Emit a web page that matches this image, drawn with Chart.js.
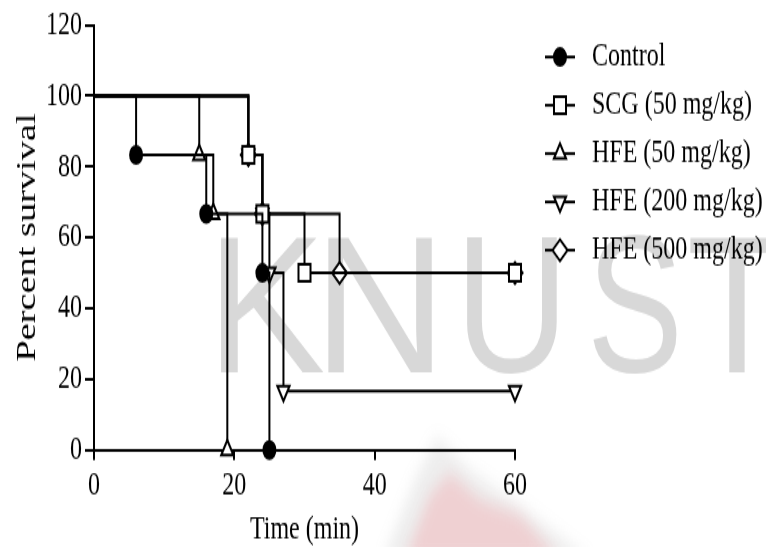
<!DOCTYPE html>
<html><head><meta charset="utf-8">
<script src="https://cdn.jsdelivr.net/npm/chart.js@4.4.1/dist/chart.umd.min.js"></script>
<style>
html,body{margin:0;padding:0;background:#fff;overflow:hidden;width:766px;height:547px}
#wrap{position:absolute;left:0;top:0;width:766px;height:385px;transform:scaleY(1.4208);transform-origin:0 0}
</style></head><body>
<div id="wrap"><canvas id="c"></canvas></div>
<script>
// ---- data ----
const seriesNames = ['Control', 'SCG (50 mg/kg)', 'HFE (50 mg/kg)', 'HFE (200 mg/kg)', 'HFE (500 mg/kg)'];
const controlTime = [0, 6, 16, 24, 25];
const controlSurvival = [100, 83.33, 66.67, 50, 0];
const scgTime = [0, 22, 24, 30, 60];
const scgSurvival = [100, 83.33, 66.67, 50, 50];
const hfe50Time = [0, 15, 17, 19];
const hfe50Survival = [100, 83.33, 66.67, 0];
const hfe200Time = [0, 22, 24, 25, 27, 60];
const hfe200Survival = [100, 83.33, 66.67, 50, 16.67, 16.67];
const hfe500Time = [0, 22, 24, 35, 60];
const hfe500Survival = [100, 83.33, 66.67, 50, 50];
const xTicks = [0, 20, 40, 60];
const yTicks = [0, 20, 40, 60, 80, 100, 120];
const xTitle = 'Time (min)';
const yTitle = 'Percent survival';
const watermarkText = 'KNUST';

// ---- styling ----
const S = 1.4208; // vertical stretch of the picture
const FONT = '"Liberation Serif", "Times New Roman", serif';
const markers = [
  {style: 'circle', rot: 0, r: 6, fill: '#000'},
  {style: 'rect', rot: 0, r: 8.5, fill: '#fff'},
  {style: 'triangle', rot: 0, r: 7, fill: '#fff'},
  {style: 'triangle', rot: 180, r: 7, fill: '#fff'},
  {style: 'rectRot', rot: 0, r: 7.5, fill: '#fff'}
];
const times = [controlTime, scgTime, hfe50Time, hfe200Time, hfe500Time];
const survs = [controlSurvival, scgSurvival, hfe50Survival, hfe200Survival, hfe500Survival];

const datasets = seriesNames.map((name, i) => ({
  label: name,
  data: times[i].map((t, j) => ({x: t, y: survs[i][j]})),
  stepped: 'before',
  borderColor: '#000',
  borderWidth: 2,
  fill: false,
  clip: false,
  pointStyle: markers[i].style,
  pointRotation: markers[i].rot,
  pointRadius: c => c.dataIndex === 0 ? 0 : markers[i].r,
  pointHoverRadius: c => c.dataIndex === 0 ? 0 : markers[i].r,
  pointBackgroundColor: markers[i].fill,
  pointBorderColor: '#000',
  pointBorderWidth: 2
}));

const bgPlugin = {
  id: 'bg',
  beforeDraw(chart) {
    const ctx = chart.ctx;
    ctx.save();
    ctx.fillStyle = '#fff';
    ctx.fillRect(0, 0, chart.width, chart.height);
    // faint logo at the bottom
    ctx.filter = 'blur(6px)';
    ctx.fillStyle = 'rgba(150,150,150,0.16)';
    ctx.beginPath();
    ctx.moveTo(383, 560 / S); ctx.lineTo(415, 480 / S); ctx.lineTo(437, 437 / S);
    ctx.lineTo(470, 470 / S); ctx.lineTo(517, 503 / S); ctx.lineTo(590, 560 / S);
    ctx.closePath(); ctx.fill();
    ctx.fillStyle = 'rgba(245,90,100,0.20)';
    ctx.beginPath();
    ctx.moveTo(405, 560 / S); ctx.lineTo(430, 495 / S); ctx.lineTo(450, 473 / S);
    ctx.lineTo(480, 500 / S); ctx.lineTo(520, 515 / S); ctx.lineTo(560, 560 / S);
    ctx.closePath(); ctx.fill();
    ctx.filter = 'none';
    // watermark
    ctx.fillStyle = '#d8d8d8';
    ctx.font = '137px "Liberation Sans", Arial, sans-serif';
    ctx.textAlign = 'center';
    ctx.textBaseline = 'alphabetic';
    const cx = [266, 380, 512, 635, 737];
    const sx = [1.3, 1.35, 1.15, 1.05, 1.2];
    watermarkText.split('').forEach((ch, k) => {
      ctx.save();
      ctx.translate(cx[k], 372 / S);
      ctx.scale(sx[k], 1);
      ctx.fillText(ch, 0, 0);
      ctx.restore();
    });
    ctx.restore();
  }
};

const legendPlugin = {
  id: 'customLegend',
  afterDraw(chart) {
    const ctx = chart.ctx;
    ctx.save();
    chart.data.datasets.forEach((ds, i) => {
      const y = (57 + 48.3 * i) / S;
      ctx.strokeStyle = '#000';
      ctx.lineWidth = 2;
      ctx.beginPath(); ctx.moveTo(545, y); ctx.lineTo(575, y); ctx.stroke();
      ctx.fillStyle = markers[i].fill;
      ctx.strokeStyle = '#000';
      ctx.lineWidth = 2;
      Chart.helpers.drawPoint(ctx, {pointStyle: markers[i].style, rotation: markers[i].rot, radius: markers[i].r, borderWidth: 2}, 560, y);
      ctx.fillStyle = '#000';
      ctx.font = '24px ' + FONT;
      ctx.textAlign = 'left';
      ctx.textBaseline = 'middle';
      ctx.fillText(ds.label, 592, y);
    });
    ctx.restore();
  }
};

new Chart(document.getElementById('c'), {
  type: 'line',
  data: {datasets},
  plugins: [bgPlugin, legendPlugin],
  options: {
    responsive: true,
    maintainAspectRatio: false,
    animation: false,
    events: [],
    layout: {padding: {left: 0, right: 251, top: 25 / S, bottom: 0}},
    plugins: {legend: {display: false}, tooltip: {enabled: false}},
    scales: {
      x: {
        type: 'linear', min: 0, max: 60,
        afterBuildTicks: s => { s.ticks = xTicks.map(v => ({value: v})); },
        afterFit: s => { s.height = 385 - 450 / S; },
        border: {display: true, color: '#000', width: 2},
        grid: {display: true, drawOnChartArea: false, drawTicks: true, tickLength: 7, color: '#000', lineWidth: 2},
        ticks: {color: '#000', padding: 4, font: {family: FONT, size: 24}, maxRotation: 0},
        title: {display: true, text: xTitle, color: '#000', font: {family: FONT, size: 24, lineHeight: 1}, padding: {top: 0, bottom: 0}}
      },
      y: {
        type: 'linear', min: 0, max: 120,
        afterBuildTicks: s => { s.ticks = yTicks.map(v => ({value: v})); },
        afterFit: s => { s.width = 94; },
        border: {display: true, color: '#000', width: 2},
        grid: {display: true, drawOnChartArea: false, drawTicks: true, tickLength: 9, color: '#000', lineWidth: 2},
        ticks: {color: '#000', padding: 3, font: {family: FONT, size: 24}},
        title: {display: true, text: yTitle, color: '#000', font: {family: FONT, size: 27, weight: 'normal', lineHeight: 1}, padding: {top: 14, bottom: 0}}
      }
    }
  }
});
</script>
</body></html>
